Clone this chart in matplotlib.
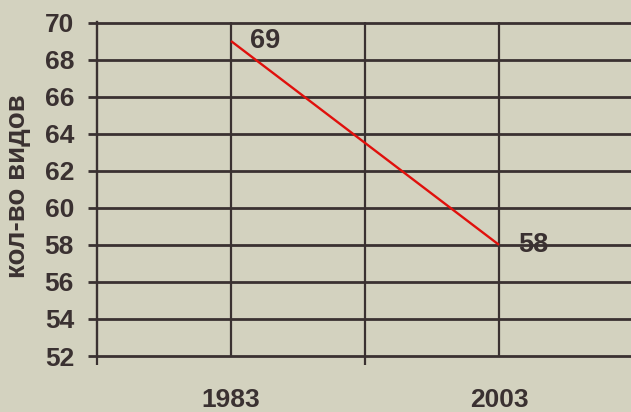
import matplotlib
matplotlib.use("Agg")
import matplotlib.pyplot as plt

# data
years = ["1983", "2003"]
species = [69, 58]
yticks = list(range(52, 71, 2))
ylabel = "кол-во видов"

BG = "#d3d2bf"
DARK = "#3a3131"
RED = "#e0100c"

plt.rcParams['font.family'] = ['Liberation Sans', 'DejaVu Sans']
plt.rcParams['font.weight'] = 'bold'

fig = plt.figure(figsize=(6.31, 4.12), dpi=100, facecolor=BG)
ax = fig.add_axes([97/631, 56/412, 536/631, 333.5/412])
ax.set_facecolor(BG)

x = list(range(len(years)))
ax.set_xlim(-0.5, len(years) - 0.5)
ax.set_ylim(yticks[0], yticks[-1])

for s in ax.spines.values():
    s.set_visible(False)

# horizontal grid
for yv in yticks:
    ax.axhline(yv, color=DARK, lw=2.0, clip_on=False, zorder=1)
# vertical lines: axis, category centres, category boundary
ax.axvline(-0.5, color=DARK, lw=1.7, clip_on=False, zorder=1)
for xv in x + [0.5]:
    ax.axvline(xv, color=DARK, lw=1.6, zorder=1)

ax.plot(x, species, color=RED, lw=1.7, zorder=3, solid_capstyle='butt')
for xi, v in zip(x, species):
    ax.annotate(str(v), (xi, v), xytext=(13.5, 0), textcoords='offset points',
                ha='left', va='center', fontsize=19.5, fontweight='bold', color=DARK)

ax.set_yticks(yticks)
ax.set_yticklabels([str(t) for t in yticks])
ax.tick_params(axis='y', length=6.5, width=2.0, color=DARK, pad=10,
               labelsize=19, labelcolor=DARK)

ax.set_xticks(x)
ax.set_xticklabels(years)
ax.set_xticks([-0.5, 0.5, 1.5], minor=True)
ax.tick_params(axis='x', which='major', length=0, pad=23, labelsize=19, labelcolor=DARK)
ax.tick_params(axis='x', which='minor', length=6.5, width=1.6, color=DARK)

fig.text(18/631, 1 - 186/412, ylabel, rotation=90, ha='center', va='center',
         fontsize=20, fontweight='bold', color=DARK)

fig.savefig("out.png", dpi=100, facecolor=BG)
